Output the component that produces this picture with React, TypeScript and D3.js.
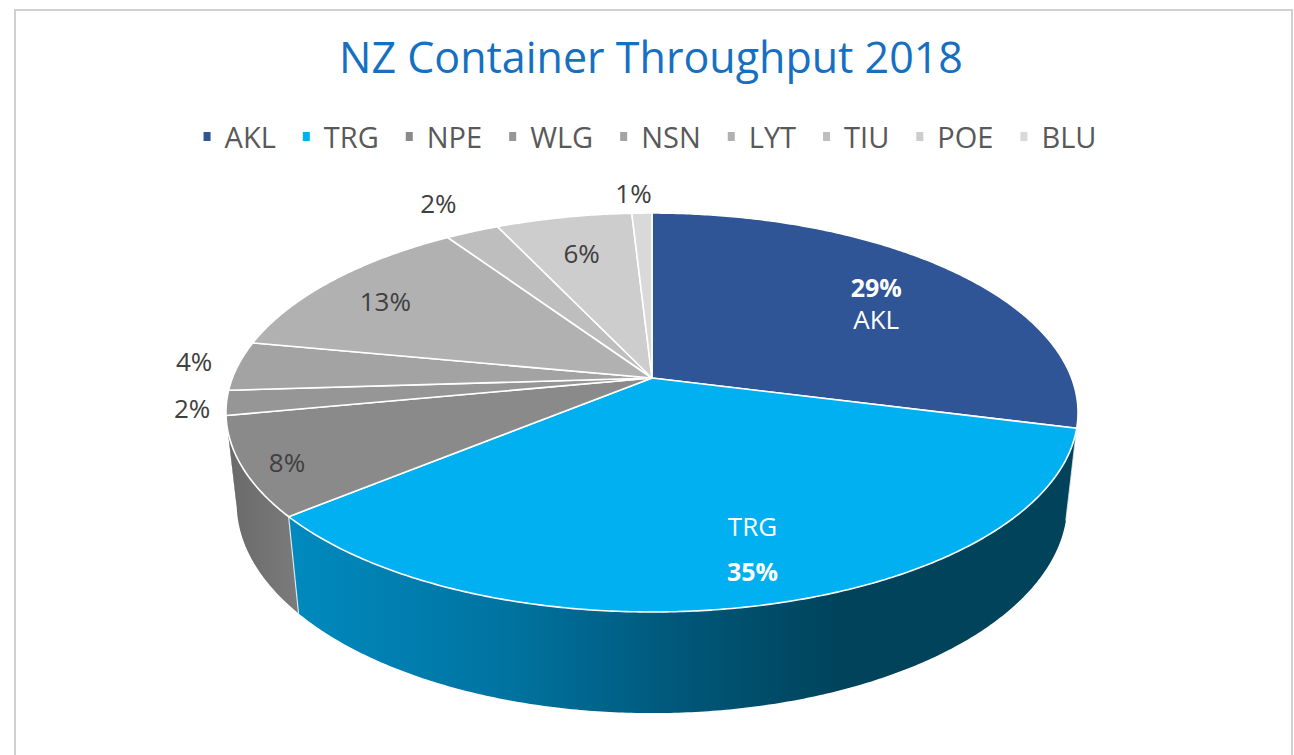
import React, { useEffect, useRef } from 'react';
import * as d3 from 'd3';

// ---------- data ----------
const titleText = 'NZ Container Throughput 2018';
const categories = ['AKL', 'TRG', 'NPE', 'WLG', 'NSN', 'LYT', 'TIU', 'POE', 'BLU'];
const shares = [29, 35, 8, 2, 4, 12.6, 2.4, 6.1, 0.9];

// ---------- styles ----------
const topColors = ['#2f5597', '#00b0f0', '#8a8a8a', '#969696', '#a3a3a3', '#b1b1b1', '#bebebe', '#cdcdcd', '#d9d9d9'];
const wallColors = ['#203c6c', 'url(#trgWall)', 'url(#npeWall)', '#707070', '#7d7d7d', '#8a8a8a', '#979797', '#a4a4a4', '#b0b0b0'];
const labelColors = ['#ffffff', '#ffffff', '#404040', '#404040', '#404040', '#404040', '#404040', '#404040', '#404040'];
const labelR = [0.705, 0.796, 0.905, 1.078, 1.111, 0.801, 1.224, 0.745, 1.139];
const labelT = [0.52, 0.48, 0.45, 0.36, 0.56, 0.46, 0.5, 0.48, 0.18];
// label layout: 0 = percent only, 1 = percent then name, 2 = name then percent
const labelMode = [1, 2, 0, 0, 0, 0, 0, 0, 0];
const labelGap = [32, 46, 0, 0, 0, 0, 0, 0, 0];

const FONT = "'Open Sans', 'Noto Sans', sans-serif";

// projection parameters (3D pie with perspective)
const CX = 652, CY = 378, RX = 419.6, RY = 193.5, K = 0.173, M = 0.025, DEPTH = 92;

function proj(theta: number, r: number, h: number): [number, number] {
  const u = r * Math.sin(theta);
  const v = r * Math.cos(theta);
  const w = 1 + K * v + M * h;
  return [CX + (RX * u) / w, CY + (-RY * v + DEPTH * h) / w];
}

export default function App() {
  const ref = useRef<SVGSVGElement>(null);

  useEffect(() => {
    const svg = d3.select(ref.current);
    svg.selectAll('*').remove();

    const arcs = d3.pie<number>().sort(null).value((d) => d).startAngle(0).endAngle(2 * Math.PI)(shares);

    const defs = svg.append('defs');
    const trg = arcs[1];
    const g1 = defs
      .append('linearGradient')
      .attr('id', 'trgWall')
      .attr('gradientUnits', 'userSpaceOnUse')
      .attr('x1', proj(trg.endAngle, 1, 0)[0])
      .attr('x2', CX + 0.45 * RX)
      .attr('y1', 0)
      .attr('y2', 0);
    ([[0, '#008abf'], [0.4, '#0073a0'], [0.7, '#00587a'], [1, '#00435b']] as [number, string][]).forEach(([o, c]) =>
      g1.append('stop').attr('offset', o).attr('stop-color', c)
    );
    const npe = arcs[2];
    const g2 = defs
      .append('linearGradient')
      .attr('id', 'npeWall')
      .attr('gradientUnits', 'userSpaceOnUse')
      .attr('x1', proj(npe.endAngle, 1, 0)[0])
      .attr('x2', proj(npe.startAngle, 1, 1)[0])
      .attr('y1', 0)
      .attr('y2', 0);
    ([[0, '#696969'], [1, '#7b7b7b']] as [number, string][]).forEach(([o, c]) =>
      g2.append('stop').attr('offset', o).attr('stop-color', c)
    );

    // background & frame
    svg.append('rect').attr('x', 0).attr('y', 0).attr('width', 1294).attr('height', 755).attr('fill', '#fff');
    svg
      .append('rect')
      .attr('x', 15)
      .attr('y', 10)
      .attr('width', 1277)
      .attr('height', 800)
      .attr('fill', '#fff')
      .attr('stroke', '#d0d0d0')
      .attr('stroke-width', 2);

    // title
    svg
      .append('text')
      .attr('x', 651)
      .attr('y', 73)
      .attr('text-anchor', 'middle')
      .attr('font-family', FONT)
      .attr('font-size', 43)
      .attr('fill', '#1670c2')
      .text(titleText);

    // legend
    const legend = svg.append('g');
    const items = categories.map((c, i) => {
      const g = legend.append('g');
      g.append('rect').attr('x', 0).attr('y', 132).attr('width', 7).attr('height', 9).attr('fill', topColors[i]);
      const t = g
        .append('text')
        .attr('x', 21)
        .attr('y', 147.5)
        .attr('font-family', FONT)
        .attr('font-size', 29)
        .attr('fill', '#595959')
        .text(c);
      const tw = (t.node() as SVGTextElement).getComputedTextLength();
      return { g, w: 21 + tw };
    });
    const gap = 27;
    const total = items.reduce((s, it) => s + it.w, 0) + gap * (items.length - 1);
    let x0 = 650 - total / 2;
    items.forEach((it) => {
      it.g.attr('transform', `translate(${x0},0)`);
      x0 += it.w + gap;
    });

    // walls: only the front-facing part, one path per slice
    const frontStart = Math.acos(-K);
    const frontEnd = 2 * Math.PI - frontStart;
    const step = Math.PI / 360;
    const wallG = svg.append('g');
    arcs.forEach((a, i) => {
      const t0 = Math.max(a.startAngle, frontStart);
      const t1 = Math.min(a.endAngle, frontEnd);
      if (t1 <= t0) return;
      const n = Math.max(2, Math.ceil((t1 - t0) / step));
      const topPts: [number, number][] = [];
      const botPts: [number, number][] = [];
      for (let j = 0; j <= n; j++) {
        const t = t0 + ((t1 - t0) * j) / n;
        topPts.push(proj(t, 1, 0));
        botPts.push(proj(t, 1, 1));
      }
      const pts = topPts.concat(botPts.reverse());
      wallG
        .append('path')
        .attr('d', 'M' + pts.map((p) => p.join(',')).join('L') + 'Z')
        .attr('fill', wallColors[i]);
    });
    // wall boundary lines on the front
    arcs.forEach((a) => {
      const t = a.endAngle;
      if (Math.cos(t) < -0.2) {
        const p0 = proj(t, 1, 0);
        const p1 = proj(t, 1, 1);
        wallG
          .append('line')
          .attr('x1', p0[0])
          .attr('y1', p0[1])
          .attr('x2', p1[0])
          .attr('y2', p1[1])
          .attr('stroke', '#ffffff')
          .attr('stroke-opacity', 0.75)
          .attr('stroke-width', 1.2);
      }
    });

    // top faces
    const line = d3.line();
    const topG = svg.append('g');
    arcs.forEach((a, i) => {
      const n = Math.max(2, Math.ceil((a.endAngle - a.startAngle) / step));
      const pts: [number, number][] = [[CX, CY]];
      for (let j = 0; j <= n; j++) {
        pts.push(proj(a.startAngle + ((a.endAngle - a.startAngle) * j) / n, 1, 0));
      }
      topG
        .append('path')
        .attr('d', (line(pts) as string) + 'Z')
        .attr('fill', topColors[i])
        .attr('stroke', '#ffffff')
        .attr('stroke-width', 1.6)
        .attr('stroke-linejoin', 'round');
    });

    // data labels
    const lab = svg.append('g').attr('font-family', FONT).attr('text-anchor', 'middle');
    arcs.forEach((a, i) => {
      const th = a.startAngle + (a.endAngle - a.startAngle) * labelT[i];
      const [lx, ly] = proj(th, labelR[i], 0);
      const pct = Math.round(shares[i]) + '%';
      const addLine = (txt: string, cy: number, bold: boolean) => {
        const fs = bold ? 25 : 26;
        lab
          .append('text')
          .attr('x', lx)
          .attr('y', cy + 0.357 * fs)
          .attr('font-size', fs)
          .attr('font-weight', bold ? 700 : 400)
          .attr('fill', labelColors[i])
          .text(txt);
      };
      if (labelMode[i] === 0) {
        addLine(pct, ly, false);
      } else if (labelMode[i] === 1) {
        addLine(pct, ly - labelGap[i] / 2, true);
        addLine(categories[i], ly + labelGap[i] / 2, false);
      } else {
        addLine(categories[i], ly - labelGap[i] / 2, false);
        addLine(pct, ly + labelGap[i] / 2, true);
      }
    });
  }, []);

  return (
    <svg
      ref={ref}
      width={1294}
      height={755}
      style={{ position: 'absolute', left: 0, top: 0, display: 'block', background: '#fff' }}
    />
  );
}
